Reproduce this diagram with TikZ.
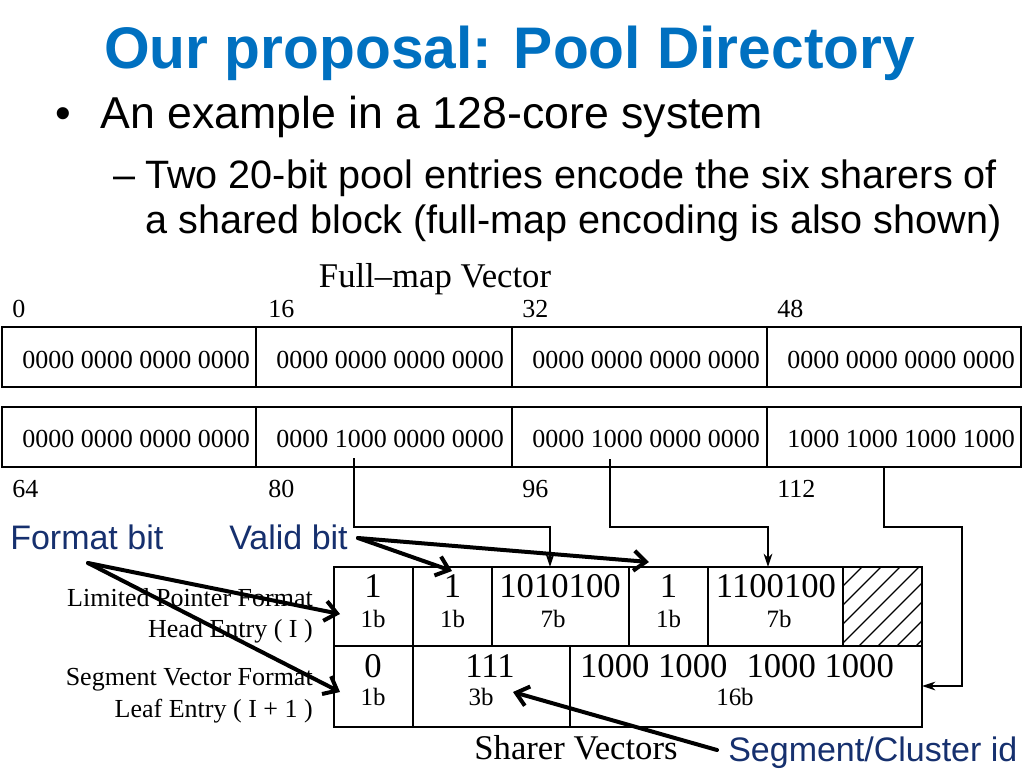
\documentclass[tikz,border=0pt]{standalone}
\usepackage{fontspec}
\setmainfont{Liberation Serif}
\newfontfamily\sansf{Liberation Sans}
\usetikzlibrary{arrows.meta}
\definecolor{titleblue}{RGB}{0,112,192}
\definecolor{navyblue}{RGB}{22,48,110}
\begin{document}
\begin{tikzpicture}[x=0.75pt,y=-0.75pt,
  txt/.style={inner sep=0pt},
  titlefont/.style={txt,font=\sansf\bfseries\fontsize{44pt}{46pt}\selectfont,text=titleblue},
  lvlone/.style={txt,font=\sansf\fontsize{33.5pt}{36pt}\selectfont},
  lvltwo/.style={txt,font=\sansf\fontsize{29.7pt}{32pt}\selectfont},
  bluelab/.style={txt,font=\sansf\fontsize{25.5pt}{27pt}\selectfont,text=navyblue},
  fignum/.style={txt,font=\fontsize{19.5pt}{20pt}\selectfont},
  figbig/.style={txt,font=\fontsize{26pt}{27pt}\selectfont},
  figsmall/.style={txt,font=\fontsize{18.7pt}{19pt}\selectfont},
  upcell/.style={draw,line width=1.5pt,inner sep=0pt},
  lowcell/.style={draw,line width=1.1pt,inner sep=0pt},
  thinarrow/.style={line width=1.1pt,-{Stealth[length=10pt,width=6.5pt,inset=3pt]}},
  thickarrow/.style={line width=3pt,line cap=round,-{Straight Barb[length=9pt,width=15pt]}}
]
\useasboundingbox (0,0) rectangle (1024,768);
\def\mkcell#1#2#3#4#5#6{\node[#1,minimum width={(#5-#3)*0.75pt},minimum height={(#6-#4)*0.75pt}] (#2) at ({(#3+#5)/2},{(#4+#6)/2}) {};}

% ---- slide text ----
\node[titlefont,anchor=base west] (title) at (104,68) {Our proposal: Pool Directory};
\node[lvlone,anchor=base] (bul) at (63,128) {\textbullet};
\node[lvlone,anchor=base west] (b1) at (100,128) {An example in a 128-core system};
\node[lvltwo,anchor=base] (dash) at (125,188) {–};
\node[lvltwo,anchor=base west] (b2) at (145,188) {Two 20-bit pool entries encode the six sharers of};
\node[lvltwo,anchor=base west] (b3) at (145,233) {a shared block (full-map encoding is also shown)};

% ---- full-map vector ----
\node[figbig,anchor=base] (fmv) at (435,287) {Full–map Vector};
\node[fignum,anchor=base west] (n0) at (12,317) {0};
\node[fignum,anchor=base west] (n16) at (268,317) {16};
\node[fignum,anchor=base west] (n32) at (522,317) {32};
\node[fignum,anchor=base west] (n48) at (777,317) {48};
\node[fignum,anchor=base west] (n64) at (12,497) {64};
\node[fignum,anchor=base west] (n80) at (268,497) {80};
\node[fignum,anchor=base west] (n96) at (522,497) {96};
\node[fignum,anchor=base west] (n112) at (777,497) {112};

\mkcell{upcell}{ra1}{2}{327}{256}{387}
\mkcell{upcell}{ra2}{256}{327}{512}{387}
\mkcell{upcell}{ra3}{512}{327}{767}{387}
\mkcell{upcell}{ra4}{767}{327}{1021}{387}
\mkcell{upcell}{rb1}{2}{407}{256}{467}
\mkcell{upcell}{rb2}{256}{407}{512}{467}
\mkcell{upcell}{rb3}{512}{407}{767}{467}
\mkcell{upcell}{rb4}{767}{407}{1021}{467}

\node[fignum,anchor=base west] (ta1) at (22,368) {0000 0000 0000 0000};
\node[fignum,anchor=base west] (ta2) at (276,368) {0000 0000 0000 0000};
\node[fignum,anchor=base west] (ta3) at (532,368) {0000 0000 0000 0000};
\node[fignum,anchor=base west] (ta4) at (787,368) {0000 0000 0000 0000};
\node[fignum,anchor=base west] (tb1) at (22,447) {0000 0000 0000 0000};
\node[fignum,anchor=base west] (tb2) at (276,447) {0000 1000 0000 0000};
\node[fignum,anchor=base west] (tb3) at (532,447) {0000 1000 0000 0000};
\node[fignum,anchor=base west] (tb4) at (787,447) {1000 1000 1000 1000};

% ---- pool entries ----
\mkcell{lowcell}{ha1}{334}{567}{413}{646}
\mkcell{lowcell}{ha2}{413}{567}{492}{646}
\mkcell{lowcell}{ha3}{492}{567}{629}{646}
\mkcell{lowcell}{ha4}{629}{567}{708}{646}
\mkcell{lowcell}{ha5}{708}{567}{843}{646}
\mkcell{lowcell}{ha6}{843}{567}{922}{646}
\mkcell{lowcell}{lb1}{334}{646}{413}{727}
\mkcell{lowcell}{lb2}{413}{646}{570}{727}
\mkcell{lowcell}{lb3}{570}{646}{922}{727}

\begin{scope}
  \clip (843,567) rectangle (922,646);
  \foreach \k in {0,...,8} {
    \draw[line width=0.9pt] ({843-60+19*\k},646) -- ++(85,-85);
  }
\end{scope}

\node[figbig,anchor=base] (va1) at (373,597) {1};
\node[figbig,anchor=base] (va2) at (452.5,597) {1};
\node[figbig,anchor=base] (va3) at (560,597) {1010100};
\node[figbig,anchor=base] (va4) at (668.5,597) {1};
\node[figbig,anchor=base] (va5) at (776,597) {1100100};
\node[figsmall,anchor=base] (sa1) at (373,627) {1b};
\node[figsmall,anchor=base] (sa2) at (452.5,627) {1b};
\node[figsmall,anchor=base] (sa3) at (553,627) {7b};
\node[figsmall,anchor=base] (sa4) at (668.5,627) {1b};
\node[figsmall,anchor=base] (sa5) at (779,627) {7b};
\node[figbig,anchor=base] (vb1) at (373,677) {0};
\node[figbig,anchor=base] (vb2) at (490,677) {111};
\node[figbig,anchor=base] (vb3) at (737,677) {1000 1000\hspace{0.3em} 1000 1000};
\node[figsmall,anchor=base] (sb1) at (373,705) {1b};
\node[figsmall,anchor=base] (sb2) at (481,705) {3b};
\node[figsmall,anchor=base] (sb3) at (735,705) {16b};

\node[fignum,anchor=base east] (l1) at (313,606) {Limited Pointer Format};
\node[fignum,anchor=base east] (l2) at (313,637) {Head Entry ( I )};
\node[fignum,anchor=base east] (l3) at (313,685) {Segment Vector Format};
\node[fignum,anchor=base east] (l4) at (313,717) {Leaf Entry ( I + 1 )};

\node[figbig,anchor=base] (shv) at (576,759) {Sharer Vectors};

% ---- thin connectors ----
\coordinate (p1s) at (354,458);
\coordinate (p1k) at (354,527);
\coordinate (p1e) at (550,567);
\coordinate (p2s) at (610,459);
\coordinate (p2k) at (610,527);
\coordinate (p2e) at (768,567);
\coordinate (p3k) at (884,527);
\coordinate (p3c) at (962,686);
\coordinate (p3e) at (922,686);
\draw[thinarrow] (p1s) -- (p1k) -| (p1e);
\draw[thinarrow] (p2s) -- (p2k) -| (p2e);
\draw[thinarrow] (rb4.south -| p3k) -- (p3k) -| (p3c) -- (p3e);

% ---- blue labels and thick arrows ----
\node[bluelab,anchor=base west] (fmt) at (10,549) {Format bit};
\node[bluelab,anchor=base west] (vld) at (229,549) {Valid bit};
\node[bluelab,anchor=base west] (seg) at (728,761) {Segment/Cluster id};

\coordinate (fmts) at (88,563);
\coordinate (vlds) at (358,538);
\coordinate (segs) at (717,750);
\draw[thickarrow] (fmts) -- (340,614);
\draw[thickarrow] (fmts) -- (340,692);
\draw[thickarrow] (vlds) -- (452,571);
\draw[thickarrow] (vlds) -- (649,562);
\draw[thickarrow] (segs) -- (513,692);
\end{tikzpicture}
\end{document}
